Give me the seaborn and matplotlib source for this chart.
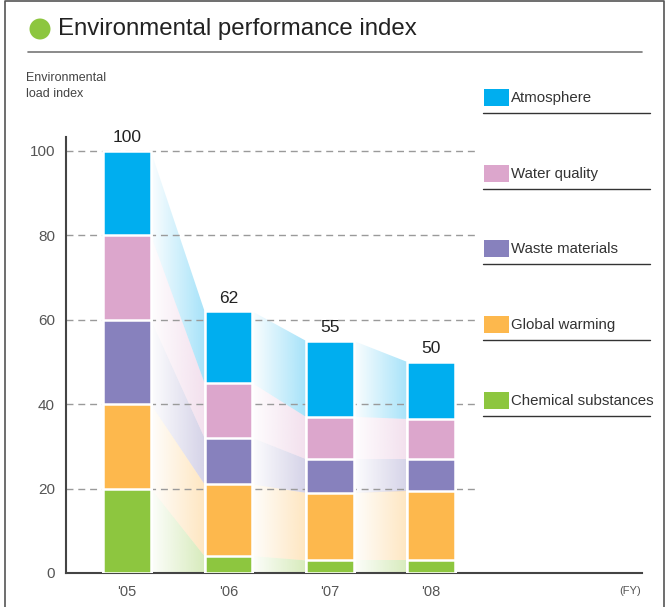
import numpy as np
import pandas as pd
import matplotlib
matplotlib.use("Agg")
import matplotlib.pyplot as plt
from matplotlib.patches import Polygon, Ellipse, Rectangle
from matplotlib.lines import Line2D
from matplotlib.colors import to_rgb
import seaborn as sns

# ---- data -------------------------------------------------------------
years = ["'05", "'06", "'07", "'08"]
categories = ["Chemical substances", "Global warming", "Waste materials",
              "Water quality", "Atmosphere"]
chemical = [20, 4, 3, 3]
global_warming = [20, 17, 16, 16.5]
waste = [20, 11, 8, 7.5]
water = [20, 13, 10, 9.5]
atmosphere = [20, 17, 18, 13.5]
totals = [100, 62, 55, 50]
colors = ["#8dc63f", "#fdb84d", "#8781bd", "#dca6cc", "#00aeef"]
yticks = [0, 20, 40, 60, 80, 100]

series = [chemical, global_warming, waste, water, atmosphere]

# ---- figure -----------------------------------------------------------
sns.set_theme(style="white")
plt.rcParams["font.family"] = ["Liberation Sans", "DejaVu Sans"]

W, H = 669, 607
fig = plt.figure(figsize=(W / 100, H / 100), dpi=100)
ax = fig.add_axes([66 / W, 1 - 573 / H, (642 - 66) / W, (573 - 137) / H])

xpos = np.arange(len(years))
bar_w = 0.47
xlim = (-0.602, 5.08)
ylim = (0, 103.3)

# cumulative stack boundaries
cum = np.vstack([np.zeros(len(years)), np.cumsum(np.array(series), axis=0)])

# ---- stacked bars (drawn tallest first, each overlaying the previous) --
rows = []
for k in range(len(series) - 1, -1, -1):
    for i, y in enumerate(years):
        rows.append({"year": y, "value": cum[k + 1][i], "layer": k})
df = pd.DataFrame(rows)
for k in range(len(series) - 1, -1, -1):
    sub = df[df["layer"] == k]
    sns.barplot(data=sub, x="year", y="value", color=colors[k], width=bar_w,
                saturation=1, edgecolor="white", linewidth=1.8, ax=ax,
                zorder=3)

# ---- gradient ribbons between neighbouring bars -------------------------
grad = np.linspace(0, 1, 256)
for k in range(len(series)):
    rgb = np.array(to_rgb(colors[k]))
    img = np.zeros((2, 256, 4))
    img[..., :3] = rgb
    img[..., 3] = 0.02 + 0.33 * grad
    for i in range(len(years) - 1):
        x0 = xpos[i] + bar_w / 2
        x1 = xpos[i + 1] - bar_w / 2
        lo0, hi0 = cum[k][i], cum[k + 1][i]
        lo1, hi1 = cum[k][i + 1], cum[k + 1][i + 1]
        poly = Polygon([(x0, lo0), (x0, hi0), (x1, hi1), (x1, lo1)],
                       closed=True, facecolor="none", edgecolor="none")
        ax.add_patch(poly)
        im = ax.imshow(img, extent=(x0, x1, min(lo0, lo1), max(hi0, hi1)),
                       aspect="auto", origin="lower", zorder=1,
                       interpolation="bilinear")
        im.set_clip_path(poly)

# ---- grid -------------------------------------------------------------
ax.hlines(yticks[1:], xlim[0], 3.434, colors="#9a9a9a", linestyles=(0, (5, 3.5)),
          linewidth=1.0, zorder=2)

# ---- totals -------------------------------------------------------------
for i, t in enumerate(totals):
    ax.text(xpos[i], t + 1.3, f"{t}", ha="center", va="bottom",
            fontsize=12.5, color="#222222")

ax.set_xlim(*xlim)
ax.set_ylim(*ylim)
ax.set_yticks(yticks)
ax.set_yticklabels([str(v) for v in yticks], fontsize=11, color="#555555")
ax.set_xticks(xpos)
ax.set_xticklabels(years, fontsize=10.5, color="#555555")
ax.tick_params(axis="y", length=0, pad=8)
ax.tick_params(axis="x", length=0, pad=9)
ax.set_xlabel("")
ax.set_ylabel("")
for s in ["top", "right"]:
    ax.spines[s].set_visible(False)
for s in ["left", "bottom"]:
    ax.spines[s].set_color("#444444")
    ax.spines[s].set_linewidth(1.5)
ax.set_facecolor("none")

# ---- annotations around the plot ---------------------------------------
fig.text(26 / W, 1 - 86 / H, "Environmental\nload index", fontsize=9,
         color="#444444", ha="left", va="center", linespacing=1.45)
fig.text(630 / W, 1 - 591 / H, "(FY)", fontsize=8, color="#555555",
         ha="center", va="center")

# title
fig.patches.append(Ellipse((40 / W, 1 - 29 / H), 21 / W, 21 / H,
                           transform=fig.transFigure,
                           facecolor="#8dc63f", edgecolor="none"))
fig.text(58 / W, 1 - 29 / H, "Environmental performance index", fontsize=17.3,
         color="#222222", ha="left", va="center")
fig.lines.append(Line2D([28 / W, 642 / W], [1 - 52 / H, 1 - 52 / H],
                        transform=fig.transFigure, color="#777777", linewidth=1.2))

# frame
fig.lines.append(Line2D([5 / W, 5 / W, 664 / W, 664 / W],
                        [0, 1 - 0.8 / H, 1 - 0.8 / H, 0],
                        transform=fig.transFigure, color="#555555", linewidth=1.2))

# legend (top entry = top of the stack)
for j, k in enumerate(range(len(categories) - 1, -1, -1)):
    ytop = 89 + j * 75.7
    fig.patches.append(Rectangle((484 / W, 1 - (ytop + 17) / H), 25 / W, 17 / H,
                                 transform=fig.transFigure,
                                 facecolor=colors[k], edgecolor="none"))
    fig.text(511 / W, 1 - (ytop + 9) / H, categories[k], fontsize=10.8,
             color="#333333", ha="left", va="center")
    fig.lines.append(Line2D([483 / W, 650 / W], [1 - (ytop + 24) / H] * 2,
                            transform=fig.transFigure, color="#333333",
                            linewidth=1.0))

fig.savefig("out.png", dpi=100)
